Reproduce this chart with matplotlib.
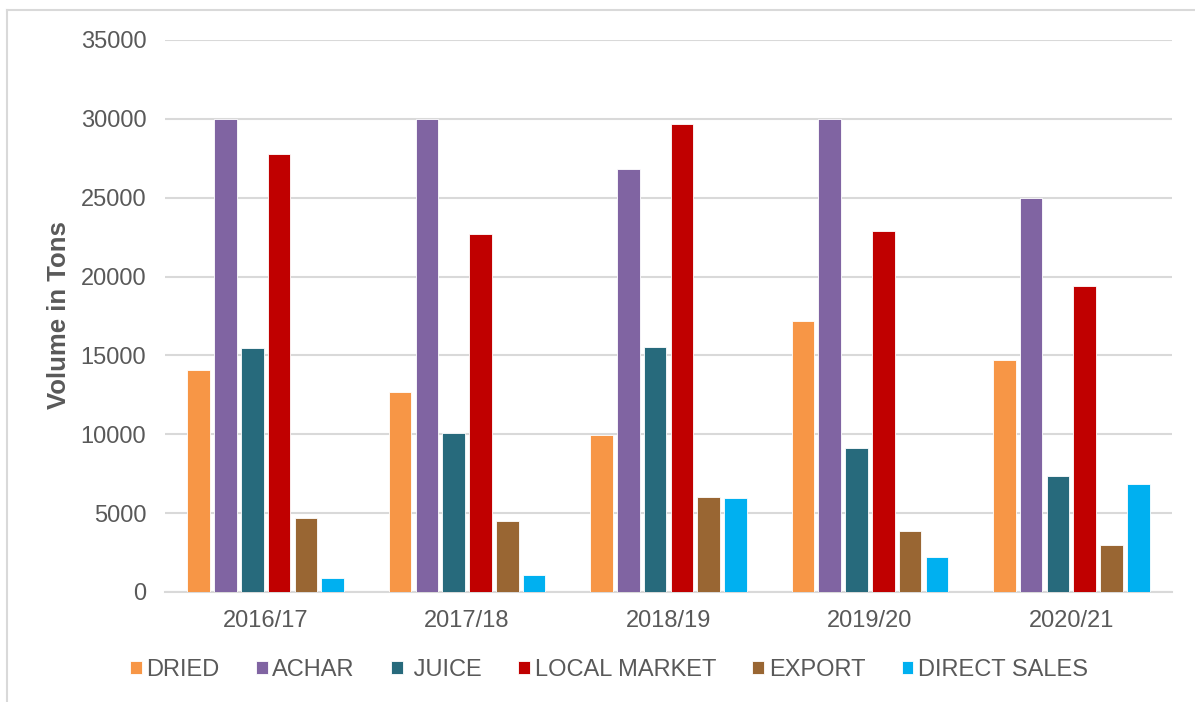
import numpy as np
import matplotlib.pyplot as plt
from matplotlib.lines import Line2D

plt.rcParams['font.family'] = ['Liberation Sans', 'DejaVu Sans']

years = ['2016/17', '2017/18', '2018/19', '2019/20', '2020/21']
series = ['DRIED', 'ACHAR', ' JUICE', 'LOCAL MARKET', 'EXPORT', 'DIRECT SALES']
dried = [14100, 12700, 9950, 17200, 14700]
achar = [30000, 30000, 26800, 30000, 25000]
juice = [15500, 10100, 15550, 9100, 7350]
local_market = [27800, 22700, 29650, 22900, 19400]
export = [4700, 4500, 6050, 3850, 3000]
direct_sales = [900, 1100, 5980, 2250, 6850]
colors = ['#F79646', '#8064A2', '#276A7C', '#C00000', '#996633', '#00B0F0']

values = [dried, achar, juice, local_market, export, direct_sales]
text_col = '#595959'

fig = plt.figure(figsize=(11.95, 7.02), dpi=100)
ax = fig.add_axes([165/1195, 1-592/702, (1172-165)/1195, (592-40)/702])

x = np.arange(len(years))
pitch = 0.133
for i, (name, vals, c) in enumerate(zip(series, values, colors)):
    ax.bar(x + (i - 2.5)*pitch, vals, width=0.112, color=c, label=name,
           edgecolor='white', linewidth=0.6, zorder=3)

ax.set_xlim(-0.5, len(years) - 0.5)
ax.set_ylim(0, 35000)
ax.set_yticks(range(0, 35001, 5000))
ax.set_xticks(x)
ax.set_xticklabels(years)
ax.yaxis.grid(True, color='#D9D9D9', linewidth=1.5, zorder=0)
for s in ['top', 'right', 'left']:
    ax.spines[s].set_visible(False)
ax.spines['bottom'].set_color('#D9D9D9')
ax.spines['bottom'].set_linewidth(1.5)
ax.tick_params(length=0, labelsize=17, colors=text_col)
ax.tick_params(axis='y', pad=13.5)
ax.tick_params(axis='x', pad=13)
ax.set_ylabel('Volume in Tons', fontsize=18.5, fontweight='bold', color=text_col)
ax.yaxis.set_label_coords((71-165)/(1172-165), (592-315)/(592-40))

leg = fig.legend(loc='center', bbox_to_anchor=(609/1195, 1-670/702), ncol=6,
                 frameon=False, fontsize=17, handlelength=0.5, handleheight=0.5,
                 handletextpad=0.2, columnspacing=1.53, labelcolor=text_col)

# chart border
fig.add_artist(Line2D([7/1195, 1], [1-10/702, 1-10/702], color='#D9D9D9', linewidth=1.5))
fig.add_artist(Line2D([7/1195, 7/1195], [0, 1-10/702], color='#D9D9D9', linewidth=1.5))

fig.savefig('out.png', dpi=100)
